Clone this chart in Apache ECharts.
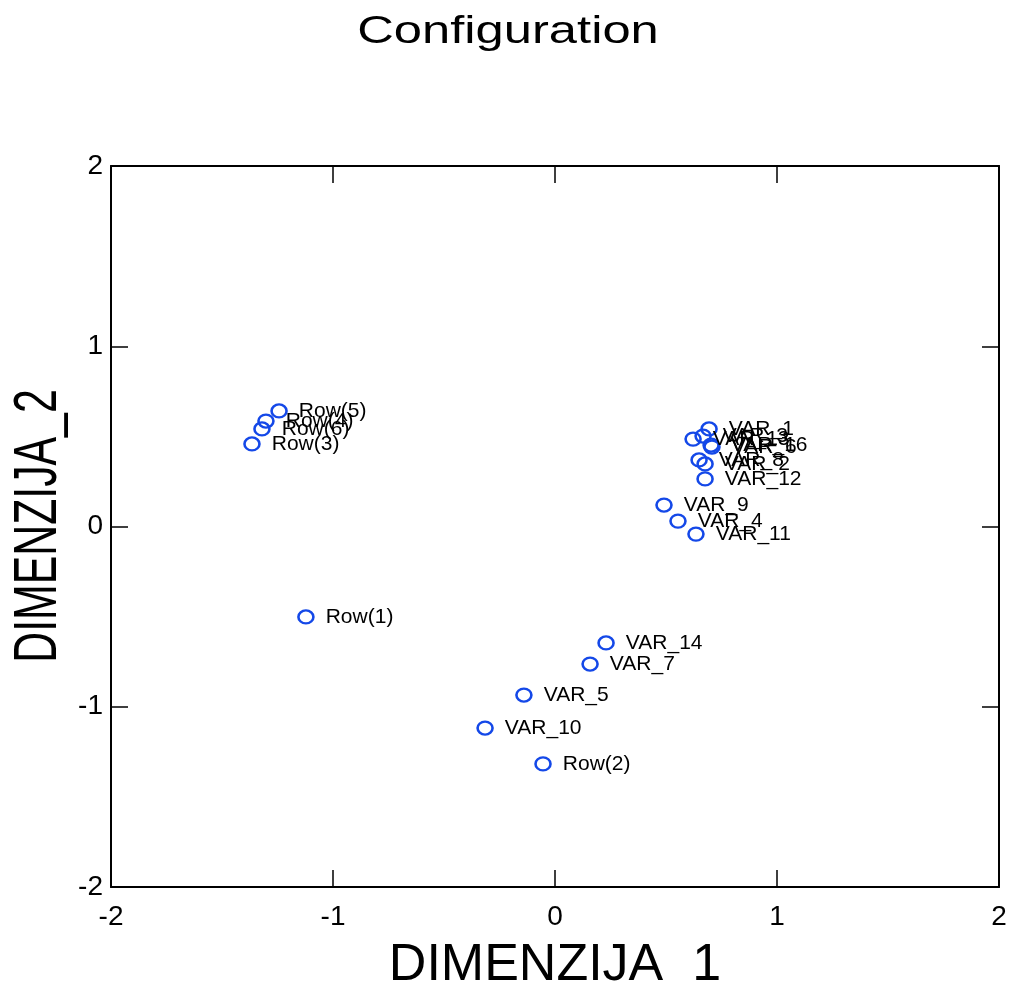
<!DOCTYPE html>
<html>
<head>
<meta charset="utf-8">
<script src="https://cdn.jsdelivr.net/npm/echarts@6/dist/echarts.min.js"></script>
<style>html,body{margin:0;padding:0;background:#fff;}#c{width:1013px;height:985px;}</style>
</head>
<body>
<div id="c"></div>
<script>
const names = ["Row(1)","Row(2)","Row(3)","Row(4)","Row(5)","Row(6)",
  "VAR_1","VAR_2","VAR_3","VAR_4","VAR_5","VAR_6","VAR_7","VAR_8",
  "VAR_9","VAR_10","VAR_11","VAR_12","VAR_13","VAR_14","VAR_16"];
const dim1 = [-1.122,-0.054,-1.365,-1.302,-1.243,-1.320,
  0.694,0.676,0.667,0.554,-0.140,0.707,0.158,0.649,
  0.491,-0.315,0.635,0.676,0.622,0.230,0.703];
const dim2 = [-0.502,-1.317,0.458,0.585,0.641,0.541,
  0.541,0.347,0.502,0.030,-0.935,0.441,-0.763,0.369,
  0.119,-1.118,-0.042,0.264,0.485,-0.646,0.452];
const xTicks = [-2,-1,0,1,2];
const yTicks = [-2,-1,0,1,2];
const titleText = 'Configuration';
const xName = 'DIMENZIJA_1';
const yName = 'DIMENZIJA_2';

const FONT = "'Liberation Sans', Arial, sans-serif";
const chart = echarts.init(document.getElementById('c'));
const axisCommon = {
  min: -2, max: 2, interval: 1,
  axisLine: {show: true, onZero: false, lineStyle: {color: '#000', width: 2}},
  axisTick: {show: true, inside: true, length: 17, lineStyle: {color: '#000', width: 1.5}},
  splitLine: {show: false}
};
chart.setOption({
  animation: false,
  backgroundColor: '#fff',
  grid: {left: 111, right: 14, top: 166, bottom: 98, outerBoundsMode: 'none', containLabel: false},
  graphic: [
    {type: 'text', x: 508, y: 32, scaleX: 1.3, silent: true,
      style: {text: titleText, font: "39px " + FONT, fill: '#000', align: 'center', verticalAlign: 'middle'}},
    {type: 'text', x: 555, y: 966, silent: true,
      style: {text: xName, font: "52px " + FONT, fill: '#000', align: 'center', verticalAlign: 'middle'}},
    {type: 'text', x: 39, y: 526, rotation: Math.PI / 2, scaleX: 0.69, silent: true,
      style: {text: yName, font: "62px " + FONT, fill: '#000', align: 'center', verticalAlign: 'middle'}}
  ],
  xAxis: [
    Object.assign({}, axisCommon, {
      type: 'value', position: 'bottom',
      axisLabel: {color: '#000', fontFamily: FONT, fontSize: 28, margin: 16,
        formatter: v => xTicks.includes(v) ? String(v) : ''}
    }),
    Object.assign({}, axisCommon, {type: 'value', position: 'top', axisLabel: {show: false}})
  ],
  yAxis: [
    Object.assign({}, axisCommon, {
      type: 'value', position: 'left',
      axisLabel: {color: '#000', fontFamily: FONT, fontSize: 28, margin: 8,
        formatter: v => yTicks.includes(v) ? String(v) : ''}
    }),
    Object.assign({}, axisCommon, {type: 'value', position: 'right', axisLabel: {show: false}})
  ],
  series: [{
    type: 'scatter',
    symbol: 'circle',
    symbolSize: [15, 13],
    itemStyle: {color: 'rgba(0,0,0,0)', borderColor: '#1448e8', borderWidth: 2.4, opacity: 1},
    label: {
      show: true, position: 'right', distance: 11,
      formatter: p => p.data[2],
      color: '#000', fontFamily: FONT, fontSize: 21
    },
    labelLayout: {hideOverlap: false},
    data: names.map((n, i) => [dim1[i], dim2[i], n])
  }]
});
</script>
</body>
</html>
